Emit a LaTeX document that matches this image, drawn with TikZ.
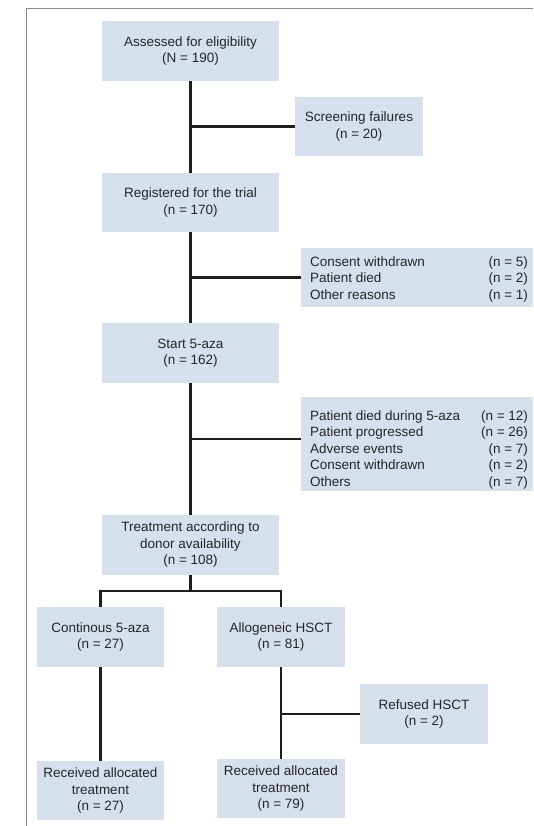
\documentclass[tikz,border=0pt]{standalone}
\usepackage{fontspec}
\setmainfont{Liberation Sans}
\definecolor{boxfill}{HTML}{D6DFEC}
\definecolor{txt}{HTML}{262626}
\definecolor{frame}{HTML}{8A8A8A}
\definecolor{conn}{HTML}{1E1E1E}
\begin{document}
\begin{tikzpicture}[x=1pt,y=-1pt,
  box/.style={rectangle, fill=boxfill, inner sep=0pt, align=center, text=txt,
    font=\fontsize{13.5}{16.5}\selectfont},
  listbox/.style={box, minimum width=232pt},
  main/.style={draw=conn, line width=2.8pt},
  sub/.style={draw=conn, line width=2.3pt}]
\useasboundingbox (0,0) rectangle (533,826);
\fill[white] (0,0) rectangle (533,826);
\draw[frame, line width=1pt] (26,826) -- (26,9) -- (533,9);

\node[box, minimum width=177pt, minimum height=60pt] (a) at (190.5,51) {Assessed for eligibility\\(N = 190)};
\node[box, minimum width=128pt, minimum height=59pt] (scr) at (359,126.5) {Screening failures\\(n = 20)};
\node[box, minimum width=177pt, minimum height=59pt] (reg) at (190.5,202.5) {Registered for the trial\\(n = 170)};
\node[listbox, minimum height=59pt] (wd1) at (417,277.5) {\hspace*{4pt}\raisebox{0pt}[\dimexpr\height+4pt\relax][\depth]{\begin{tabular*}{218pt}{@{}l@{\extracolsep{\fill}}r@{}}
Consent withdrawn & (n = 5)\\
Patient died & (n = 2)\\
Other reasons & (n = 1)
\end{tabular*}}};
\node[box, minimum width=177pt, minimum height=60pt] (start) at (190.5,353) {Start 5-aza\\(n = 162)};
\node[listbox, minimum height=90pt] (wd2) at (417,444) {\hspace*{4pt}\raisebox{0pt}[\dimexpr\height+12pt\relax][\depth]{\begin{tabular*}{218pt}{@{}l@{\extracolsep{\fill}}r@{}}
Patient died during 5-aza & (n = 12)\\
Patient progressed & (n = 26)\\
Adverse events & (n = 7)\\
Consent withdrawn & (n = 2)\\
Others & (n = 7)
\end{tabular*}}};
\node[box, minimum width=177pt, minimum height=60pt] (treat) at (190.5,545) {Treatment according to\\donor availability\\(n = 108)};
\node[box, minimum width=127pt, minimum height=60pt] (cont) at (100.5,637) {Continous 5-aza\\(n = 27)};
\node[box, minimum width=128pt, minimum height=60pt] (allo) at (281,637) {Allogeneic HSCT\\(n = 81)};
\node[box, minimum width=128pt, minimum height=60pt] (ref) at (424,714) {Refused HSCT\\(n = 2)};
\node[box, minimum width=127pt, minimum height=59pt] (recl) at (100.5,790.5) {Received allocated\\treatment\\(n = 27)};
\node[box, minimum width=128pt, minimum height=59pt] (recr) at (281,788.5) {Received allocated\\treatment\\(n = 79)};

\draw[main] (a.south) -- (reg.north);
\draw[sub] (scr.west) -- (scr.west -| a.south);
\draw[main] (reg.south) -- (start.north);
\draw[sub] (wd1.west) -- (wd1.west -| a.south);
\draw[main] (start.south) -- (treat.north);
\draw[sub] ([yshift=5pt]wd2.west) -- ([yshift=5pt]wd2.west -| a.south);
\coordinate (split) at (190.5,591);
\draw[main] (treat.south) -- (split);
\draw[sub] (cont.north) |- (split) -| (allo.north);
\draw[sub] (cont.south) -- (recl.north);
\draw[sub] (allo.south) -- (recr.north);
\draw[sub] (ref.west) -- (ref.west -| allo.south);
\end{tikzpicture}
\end{document}
